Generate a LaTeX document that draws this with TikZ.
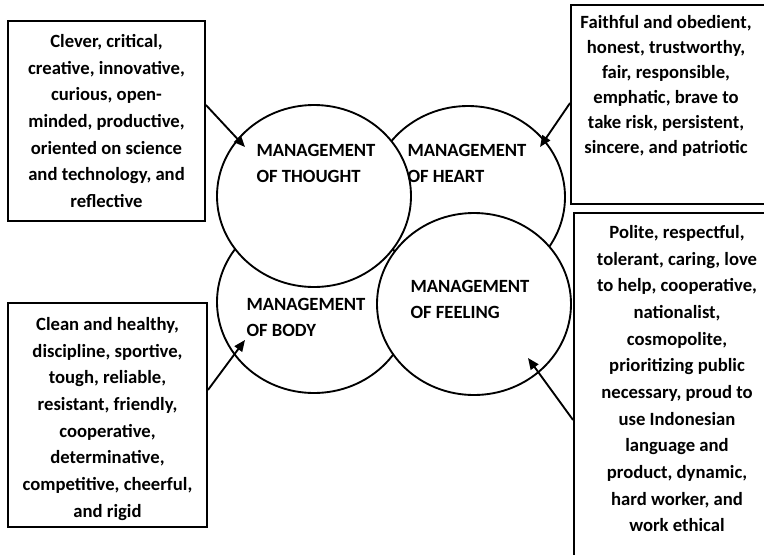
\documentclass[tikz,border=0pt]{standalone}
\usepackage{fontspec}
\setmainfont{Carlito}
\usetikzlibrary{shapes.geometric,arrows.meta}

\tikzset{every picture/.style={line width=0.75pt}}
\tikzset{
  ring/.style={ellipse,draw,fill=white,line width=1.4pt,minimum width=145.5pt,minimum height=136.5pt,inner sep=0pt},
  traitbox/.style={draw,line width=1.4pt,inner sep=0pt},
  ringlabel/.style={font=\fontsize{14}{19.5}\selectfont\bfseries,align=left,inner sep=0pt,anchor=base west},
  traits/.style={font=\fontsize{14}{20}\selectfont\bfseries,align=center,inner sep=0pt,anchor=north},
  pointer/.style={line width=1.4pt,-{Triangle[length=8.5pt,width=7pt]}}
}

\begin{document}
\begin{tikzpicture}[x=0.75pt,y=0.75pt,yscale=-1,xscale=1]
\useasboundingbox (0,0) rectangle (764,554);
\clip (0,0) rectangle (764,554);

%Shape: Ellipse (back row)
\node[ring] (heart) at (468,197) {};
\node[ring] (body) at (314,302) {};
%Shape: Ellipse (front row)
\node[ring] (thought) at (314,196) {};
\node[ring] (feeling) at (474,304) {};

% Text Node (anchored on the last line)
\node[ringlabel] (thoughtlabel) at (256,182.7) {MANAGEMENT\\OF THOUGHT};
% Text Node
\node[ringlabel] (heartlabel) at (407,182.7) {MANAGEMENT\\OF HEART};
% Text Node
\node[ringlabel] (bodylabel) at (246,336.7) {MANAGEMENT\\OF BODY};
% Text Node
\node[ringlabel] (feelinglabel) at (410,318) {MANAGEMENT\\OF FEELING};

%Shape: Rectangle
\node[traitbox,minimum width=147.75pt,minimum height=150pt] (thoughtbox) at (106.5,121) {};
\node[traitbox,minimum width=150.75pt,minimum height=149.25pt] (heartbox) at (671.5,104.5) {};
\node[traitbox,minimum width=154.5pt,minimum height=261.75pt] (feelingbox) at (677,387.5) {};
\node[traitbox,minimum width=149.25pt,minimum height=168pt] (bodybox) at (107.5,415) {};

% Text Node
\node[traits] (thoughttraits) at (106.5,34) {Clever, critical,\\creative, innovative,\\curious, open-\\minded, productive,\\oriented on science\\and technology, and\\reflective};
% Text Node
\node[traits,font=\fontsize{14}{18.75}\selectfont\bfseries] (hearttraits) at (666,15) {Faithful and obedient,\\honest, trustworthy,\\fair, responsible,\\emphatic, brave to\\take risk, persistent,\\sincere, and patriotic};
% Text Node
\node[traits] (feelingtraits) at (677,225) {Polite, respectful,\\tolerant, caring, love\\to help, cooperative,\\nationalist,\\cosmopolite,\\prioritizing public\\necessary, proud to\\use Indonesian\\language and\\product, dynamic,\\hard worker, and\\work ethical};
% Text Node
\node[traits] (bodytraits) at (107.5,317) {Clean and healthy,\\discipline, sportive,\\tough, reliable,\\resistant, friendly,\\cooperative,\\determinative,\\competitive, cheerful,\\and rigid};

%Straight Lines
\coordinate (thoughttip) at (245,147);
\coordinate (hearttip) at (540,147);
\coordinate (bodytip) at (245,340);
\coordinate (feelingtip) at (528,358);
\draw[pointer] (thoughtbox.east |- 0,105) -- (thoughttip);
\draw[pointer] (heartbox.west |- 0,103) -- (hearttip);
\draw[pointer] (bodybox.east |- 0,390) -- (bodytip);
\draw[pointer] (feelingbox.west |- 0,420) -- (feelingtip);

\end{tikzpicture}
\end{document}
